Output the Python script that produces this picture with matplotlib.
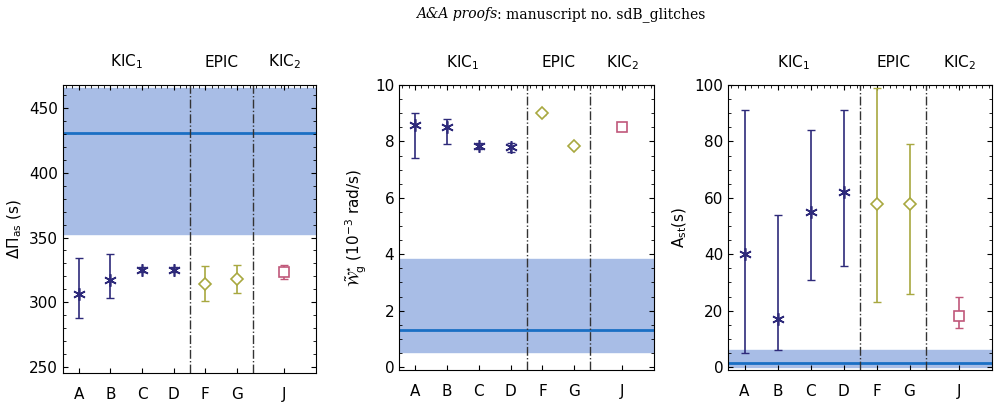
import matplotlib
matplotlib.use("Agg")
import matplotlib.pyplot as plt

labels = ["A", "B", "C", "D", "F", "G", "J"]
xpos = [1, 2, 3, 4, 5, 6, 7.5]
groups = ["kic", "kic", "kic", "kic", "epic", "epic", "kic2"]

# Delta Pi_as (s)
dpi_val = [306, 317, 325, 325, 314, 318, 323]
dpi_lo = [288, 303, 323, 323, 301, 307, 318]
dpi_hi = [334, 337, 327, 327, 328, 329, 329]
dpi_band = (353, 466)
dpi_line = 431

# W_g (1e-3 rad/s)
w_val = [8.6, 8.5, 7.85, 7.8, 9.0, 7.85, 8.5]
w_lo = [7.4, 7.9, 7.75, 7.62, 8.95, 7.8, 8.42]
w_hi = [9.0, 8.8, 7.95, 7.95, 9.05, 7.9, 8.58]
w_band = (0.55, 3.85)
w_line = 1.3

# A_st (s)
a_val = [40, 17, 55, 62, 58, 58, 18]
a_lo = [5, 6, 31, 36, 23, 26, 14]
a_hi = [91, 54, 84, 91, 99, 79, 25]
a_band = (0, 6)
a_line = 1.5

styles = {
    "kic": dict(marker=(6, 2, 0), color="#2e2a7a", ms=9),
    "epic": dict(marker="D", color="#a8a840", ms=6),
    "kic2": dict(marker="s", color="#c0587a", ms=7),
}

fig = plt.figure(figsize=(10, 4.11), dpi=100)
fig.text(0.497, 0.965, "A&A proofs", ha="right", va="center",
         family="DejaVu Serif", style="italic", fontsize=10)
fig.text(0.497, 0.965, ": manuscript no. sdB_glitches", ha="left", va="center",
         family="DejaVu Serif", fontsize=10)

panels = [
    ([0.063, 0.092, 0.253, 0.701], dpi_val, dpi_lo, dpi_hi, dpi_band, dpi_line,
     (245, 468), [250, 300, 350, 400, 450], r"$\Delta\Pi_{\rm as}$ (s)"),
    ([0.399, 0.100, 0.255, 0.693], w_val, w_lo, w_hi, w_band, w_line,
     (-0.1, 10), [0, 2, 4, 6, 8, 10], r"$\tilde{\mathcal{W}}^{\star}_{\rm g}$ ($10^{-3}$ rad/s)"),
    ([0.728, 0.100, 0.264, 0.693], a_val, a_lo, a_hi, a_band, a_line,
     (-1, 100), [0, 20, 40, 60, 80, 100], r"A$_{\rm st}$(s)"),
]

for rect, val, lo, hi, band, line, ylim, yticks, ylabel in panels:
    ax = fig.add_axes(rect)
    ax.axhspan(band[0], band[1], color="#a8bde6", zorder=0)
    ax.axhline(line, color="#1a6fc4", lw=2, zorder=1)
    for xd in (4.5, 6.5):
        ax.axvline(xd, color="#333333", lw=1, ls="-.", zorder=2)
    for x, v, l, h, g in zip(xpos, val, lo, hi, groups):
        st = styles[g]
        ax.errorbar(x, v, yerr=[[v - l], [h - v]], fmt="none", ecolor=st["color"],
                    elinewidth=1.2, capsize=3, zorder=3)
        ax.plot(x, v, ls="none", marker=st["marker"], color=st["color"],
                ms=st["ms"], mfc="white" if g != "kic" else st["color"], mew=1.2, zorder=4)
    ax.set_xlim(0.5, 8.5)
    ax.set_ylim(*ylim)
    ax.set_yticks(yticks)
    ax.minorticks_on()
    ax.set_xticks(xpos)
    ax.set_xticklabels(labels, fontsize=11)
    ax.tick_params(axis="x", which="minor", bottom=False, top=False)
    ax.tick_params(axis="both", which="both", direction="in", right=True, top=True)
    ax.tick_params(axis="x", pad=10)
    ax.tick_params(axis="y", labelsize=11)
    ax.set_ylabel(ylabel, fontsize=11)
    for x, t in [(2.5, r"KIC$_1$"), (5.5, "EPIC"), (7.5, r"KIC$_2$")]:
        ax.text(x, 1.08, t, transform=ax.get_xaxis_transform(), ha="center",
                va="center", fontsize=11)

fig.savefig("out.png", dpi=100)
